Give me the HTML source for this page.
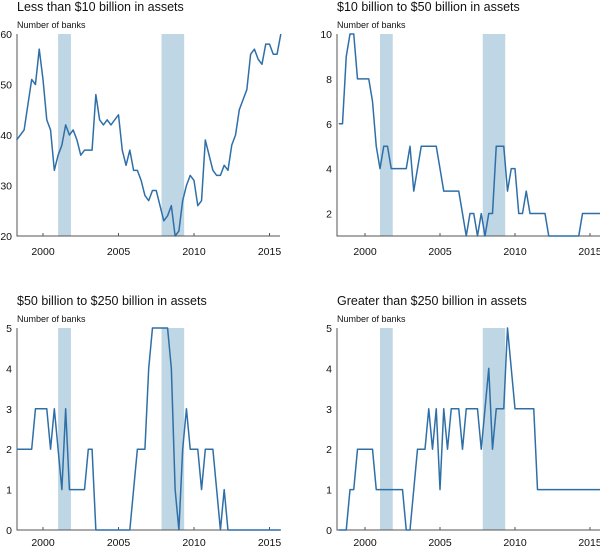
<!DOCTYPE html>
<html><head><meta charset="utf-8"><style>
html,body{margin:0;padding:0;background:#fff;}
svg{display:block;font-family:"Liberation Sans",sans-serif;}
</style></head><body>
<svg id="c" width="600" height="548" viewBox="0 0 600 548"></svg>
<script>
const startYear = 1998.25;
const stepYears = 0.25;
const yearTicks = [2000, 2005, 2010, 2015];
const recessions = [[2001.0, 2001.85], [2007.85, 2009.35]];
const titles = ["Less than $10 billion in assets", "$10 billion to $50 billion in assets", "$50 billion to $250 billion in assets", "Greater than $250 billion in assets"];
const seriesSmall = [39,40,41,46,51,50,57,51,43,41,33,36,38,42,40,41,39,36,37,37,37,48,43,42,43,42,43,44,37,34,37,33,33,31,28,27,29,29,26,23,24,26,20,21,27,30,32,31,26,27,39,36,33,32,32,34,33,38,40,45,47,49,56,57,55,54,58,58,56,56,60];
const seriesMid = [6,6,9,10,10,8,8,8,8,7,5,4,5,5,4,4,4,4,4,5,3,4,5,5,5,5,5,4,3,3,3,3,3,2,1,2,2,1,2,1,2,2,5,5,5,3,4,4,2,2,3,2,2,2,2,2,1,1,1,1,1,1,1,1,1,2,2,2,2,2,2];
const seriesLarge = [2,2,2,2,2,3,3,3,3,2,3,2,1,3,1,1,1,1,1,2,2,0,0,0,0,0,0,0,0,0,0,1,2,2,2,4,5,5,5,5,5,4,1,0,2,3,2,2,2,1,2,2,2,1,0,1,0,0,0,0,0,0,0,0,0,0,0,0,0,0,0];
const seriesHuge = [0,0,0,1,1,2,2,2,2,2,1,1,1,1,1,1,1,1,0,0,1,2,2,2,3,2,3,1,3,2,3,3,3,2,3,3,3,3,2,3,4,2,3,3,3,5,4,3,3,3,3,3,3,1,1,1,1,1,1,1,1,1,1,1,1,1,1,1,1,1,1];
const yTicks1 = [20,30,40,50,60];
const yTicks2 = [2,4,6,8,10];
const yTicks3 = [0,1,2,3,4,5];

const NS = "http://www.w3.org/2000/svg";
const svg = document.getElementById("c");
function mk(tag, attrs, parent){const e=document.createElementNS(NS,tag);for(const k in attrs)e.setAttribute(k,attrs[k]);(parent||svg).appendChild(e);return e;}

const panels = [
 {data:seriesSmall, ticks:yTicks1, ymin:20, ymax:60, x0:17, x1:280, y0:34, y1:236, x2000:43, ppy:15.1, lab:19, title:titles[0], name:"panel-small-banks"},
 {data:seriesMid, ticks:yTicks2, ymin:1, ymax:10, x0:337, x1:600, y0:34, y1:236, x2000:365, ppy:15.0, lab:19, title:titles[1], name:"panel-mid-banks"},
 {data:seriesLarge, ticks:yTicks3, ymin:0, ymax:5, x0:17, x1:280, y0:328, y1:530, x2000:43, ppy:15.1, lab:16, title:titles[2], name:"panel-large-banks"},
 {data:seriesHuge, ticks:yTicks3, ymin:0, ymax:5, x0:337, x1:600, y0:328, y1:530, x2000:365, ppy:15.0, lab:16, title:titles[3], name:"panel-huge-banks"}
];

panels.forEach(p=>{
  const g = mk("g",{});
  
  
  const xs = yr => p.x2000 + (yr-2000)*p.ppy;
  const ys = v => p.y1 - (v-p.ymin)/(p.ymax-p.ymin)*(p.y1-p.y0);
  recessions.forEach(r=>{
    const rc = mk("rect",{x:xs(r[0]), y:p.y0, width:xs(r[1])-xs(r[0]), height:p.y1-p.y0, fill:"#bfd6e4"}, g);
    
    
  });
  const t = mk("text",{x:p.x0, y:p.y0-23, "font-size":"12.5", fill:"#111"}, g);
  t.textContent = p.title;
  
  
  const u = mk("text",{x:p.x0, y:p.y0-6, "font-size":"9", fill:"#111"}, g);
  u.textContent = "Number of banks";
  
  
  p.ticks.forEach(v=>{
    const l = mk("text",{x:p.x0-5, y:ys(v)+4, "font-size":"10.5", "text-anchor":"end", fill:"#111"}, g);
    l.textContent = v;
    
    
  });
  yearTicks.forEach(yv=>{
    mk("line",{x1:xs(yv), x2:xs(yv), y1:p.y1, y2:p.y1-3, stroke:"#555", "stroke-width":1}, g);
    const l = mk("text",{x:xs(yv), y:p.y1+p.lab, "font-size":"10.5", "text-anchor":"middle", fill:"#111"}, g);
    l.textContent = yv;
    
    
  });
  const ax = mk("path",{d:`M${p.x0},${p.y0}V${p.y1}H${p.x1}`, fill:"none", stroke:"#555", "stroke-width":1}, g);
  
  
  const pts = p.data.map((v,i)=>xs(startYear+i*stepYears).toFixed(2)+","+ys(v).toFixed(2)).join(" ");
  const line = mk("polyline",{points:pts, fill:"none", stroke:"#2f6fa8", "stroke-width":1.5, "stroke-linejoin":"round"}, g);
  
  
});
</script>
</body></html>
